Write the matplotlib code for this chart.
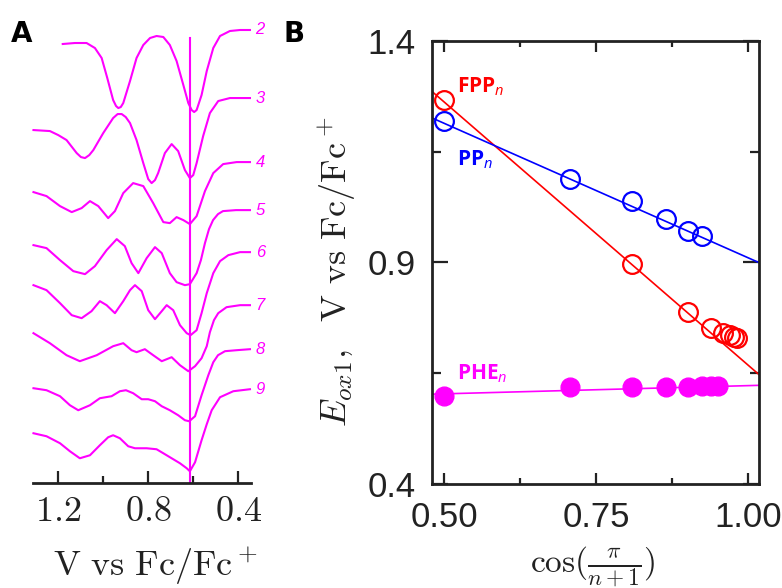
import matplotlib
matplotlib.use('Agg')
import matplotlib.pyplot as plt
import numpy as np

# custom math font for the series labels (bold sans + italic subscript)
plt.rcParams['mathtext.fontset'] = 'custom'
plt.rcParams['mathtext.rm'] = 'Open Sans:bold'
plt.rcParams['mathtext.it'] = 'Open Sans:italic'
plt.rcParams['mathtext.bf'] = 'Open Sans:bold'

MAG = '#ff00ff'
RED = '#ff0000'
BLUE = '#0000ff'
INK = '#222222'

# ---- panel A: voltammograms, V vs Fc/Fc+ and stacked current (arb. units)
orders = [2, 3, 4, 5, 6, 7, 8, 9]
volt2 = [1.180, 1.126, 1.074, 1.037, 1.007, 0.982, 0.956, 0.943, 0.933, 0.922, 0.911, 0.881, 0.852, 0.822, 0.792, 0.763,
         0.733, 0.704, 0.674, 0.644, 0.622, 0.607, 0.596, 0.585, 0.563, 0.540, 0.511, 0.481, 0.437, 0.392, 0.348]
cur2 = [43.9, 44.0, 44.0, 43.5, 42.5, 40.5, 38.3, 37.7, 37.5, 37.6, 38.0, 40.2, 42.5, 43.8, 44.5, 44.7,
        44.6, 43.8, 42.2, 39.8, 38.0, 37.3, 37.1, 37.3, 38.8, 41.2, 43.5, 44.7, 45.2, 45.3, 45.3]
volt3 = [1.310, 1.237, 1.200, 1.163, 1.118, 1.099, 1.081, 1.062, 1.044, 1.000, 0.956, 0.936, 0.918, 0.900, 0.881, 0.852,
         0.822, 0.800, 0.785, 0.770, 0.756, 0.726, 0.696, 0.667, 0.637, 0.615, 0.600, 0.585, 0.556, 0.526, 0.489, 0.437, 0.348]
cur3 = [35.3, 35.2, 34.8, 34.3, 33.0, 32.6, 32.5, 32.8, 33.3, 35.0, 36.5, 36.9, 36.9, 36.6, 36.0, 34.3,
        32.0, 30.4, 30.0, 30.3, 31.0, 33.0, 33.9, 33.2, 31.3, 30.5, 30.8, 32.0, 34.7, 37.0, 38.2, 38.5, 38.5]
volt4 = [1.310, 1.252, 1.192, 1.140, 1.096, 1.059, 1.022, 0.978, 0.948, 0.911, 0.867, 0.822, 0.778, 0.733,
         0.704, 0.674, 0.644, 0.615, 0.585, 0.548, 0.511, 0.467, 0.407, 0.348]
cur4 = [29.1, 28.7, 27.7, 27.1, 27.5, 28.2, 27.7, 26.5, 27.2, 29.0, 30.0, 29.7, 28.0, 26.1,
        26.0, 26.6, 26.3, 25.9, 26.7, 29.2, 31.0, 31.9, 32.1, 32.1]
volt5 = [1.310, 1.252, 1.192, 1.133, 1.081, 1.037, 0.985, 0.940, 0.904, 0.874, 0.844, 0.807, 0.770, 0.740,
         0.704, 0.674, 0.637, 0.615, 0.585, 0.566, 0.548, 0.530, 0.512, 0.490, 0.468, 0.410, 0.348]
cur5 = [23.8, 23.5, 22.3, 21.2, 20.9, 21.7, 23.3, 24.4, 23.7, 22.0, 21.0, 22.5, 23.6, 23.0,
        21.0, 20.1, 19.8, 19.9, 21.0, 22.3, 24.0, 25.4, 26.3, 26.9, 27.2, 27.3, 27.3]
volt6 = [1.310, 1.252, 1.192, 1.140, 1.096, 1.052, 1.015, 0.985, 0.948, 0.911, 0.881, 0.859, 0.829, 0.800,
         0.770, 0.740, 0.718, 0.689, 0.659, 0.629, 0.612, 0.585, 0.563, 0.540, 0.511, 0.481, 0.444, 0.392, 0.348]
cur6 = [19.8, 19.3, 18.0, 16.8, 16.5, 17.2, 18.2, 17.8, 17.0, 18.2, 19.3, 19.8, 19.2, 17.3,
        16.4, 17.2, 17.8, 17.3, 15.8, 15.0, 14.8, 15.3, 17.0, 19.0, 21.0, 22.2, 22.8, 23.1, 23.1]
volt7 = [1.310, 1.237, 1.163, 1.104, 1.029, 0.956, 0.911, 0.874, 0.852, 0.815, 0.778, 0.740, 0.696, 0.659,
         0.622, 0.592, 0.563, 0.540, 0.526, 0.508, 0.489, 0.452, 0.392, 0.348]
cur7 = [15.0, 14.0, 12.8, 12.2, 12.8, 13.7, 14.0, 13.3, 13.1, 13.4, 12.8, 12.2, 12.6, 11.8,
        11.2, 11.7, 12.5, 13.7, 15.1, 16.3, 17.0, 17.6, 17.8, 17.8]
volt8 = [1.310, 1.252, 1.192, 1.148, 1.111, 1.059, 1.015, 0.963, 0.926, 0.899, 0.867, 0.829, 0.800, 0.770,
         0.740, 0.704, 0.667, 0.637, 0.618, 0.592, 0.563, 0.533, 0.511, 0.490, 0.459, 0.407, 0.348]
cur8 = [9.5, 9.3, 8.7, 7.8, 7.3, 7.8, 8.5, 8.7, 9.2, 9.3, 9.0, 8.4, 8.4, 8.2,
        7.7, 7.3, 6.8, 6.3, 6.2, 6.7, 8.8, 10.8, 12.1, 12.8, 13.2, 13.3, 13.4]
volt9 = [1.310, 1.252, 1.192, 1.148, 1.104, 1.059, 1.015, 0.978, 0.956, 0.926, 0.889, 0.859, 0.807, 0.763,
         0.733, 0.696, 0.659, 0.629, 0.615, 0.592, 0.563, 0.540, 0.518, 0.481, 0.422, 0.348]
cur9 = [5.0, 4.7, 4.0, 3.2, 2.5, 2.8, 3.8, 4.6, 4.8, 4.5, 3.7, 3.5, 3.5, 3.4,
        3.0, 2.5, 2.0, 1.5, 1.2, 2.1, 4.3, 5.9, 7.3, 8.6, 9.2, 9.4]
ref_potential = 0.615
ref_top = 44.5

# ---- panel B: first oxidation potential vs cos(pi/(n+1))
fpp_n = [2, 4, 6, 8, 10, 12, 14, 16]
fpp_e = [1.267, 0.897, 0.789, 0.752, 0.741, 0.736, 0.732, 0.730]
pp_n = [2, 3, 4, 5, 6, 7]
pp_e = [1.219, 1.088, 1.039, 0.998, 0.970, 0.959]
phe_n = [2, 3, 4, 5, 6, 7, 8, 9]
phe_e = [0.599, 0.619, 0.620, 0.620, 0.620, 0.621, 0.621, 0.621]
fpp_fit = (-1.186, 1.855)   # slope, intercept
pp_fit = (-0.606, 1.517)
phe_fit = (0.037, 0.585)

fig = plt.figure(figsize=(7.82, 5.88), dpi=100)

# ================= A
axA = fig.add_axes([0.0428, 0.1781, 0.2777, 0.7879])
traces = [(volt2, cur2), (volt3, cur3), (volt4, cur4), (volt5, cur5),
          (volt6, cur6), (volt7, cur7), (volt8, cur8), (volt9, cur9)]
for n, (v, c) in zip(orders, traces):
    axA.plot(v, c, color=MAG, lw=1.5, solid_joinstyle='round', clip_on=False)
    axA.text(v[-1] - 0.025, c[-1], str(n), color=MAG, fontsize=12, style='italic',
             family='Liberation Sans', ha='left', va='center', clip_on=False)
axA.plot([ref_potential, ref_potential], [0, ref_top], color=MAG, lw=1.5)
axA.set_xlim(1.31, 0.345)
axA.set_ylim(0, 46.3)
for s in ['left', 'top', 'right']:
    axA.spines[s].set_visible(False)
axA.spines['bottom'].set_linewidth(2)
axA.spines['bottom'].set_color(INK)
axA.set_yticks([])
axA.set_xticks([1.2, 0.8, 0.4])
axA.set_xticklabels(['$1.2$', '$0.8$', '$0.4$'])
axA.set_xticks([1.0, 0.6], minor=True)
axA.tick_params(axis='x', which='major', direction='in', length=8.5, width=1.6, color=INK,
                pad=8, labelsize=26, labelcolor=INK)
axA.tick_params(axis='x', which='minor', direction='in', length=5, width=1.6, color=INK)
for lab in axA.get_xticklabels():
    lab.set_math_fontfamily('cm')
axA.patch.set_alpha(0)
fig.text(155 / 782, 1 - 566 / 588, r'$\mathrm{V\ vs\ Fc/Fc}^+$', math_fontfamily='cm',
         fontsize=26, ha='center', va='center', color=INK)

# ================= B
axB = fig.add_axes([0.5528, 0.1769, 0.4178, 0.7534])
x_lo, x_hi = 0.4802, 1.0186
axB.set_xlim(x_lo, x_hi)
axB.set_ylim(0.4, 1.4)
xx = np.array([x_lo, x_hi])

fpp_x = np.cos(np.pi / (np.array(fpp_n) + 1))
pp_x = np.cos(np.pi / (np.array(pp_n) + 1))
phe_x = np.cos(np.pi / (np.array(phe_n) + 1))

axB.plot(xx, fpp_fit[0] * xx + fpp_fit[1], color=RED, lw=1.2)
axB.plot(xx, pp_fit[0] * xx + pp_fit[1], color=BLUE, lw=1.2)
axB.plot(xx, phe_fit[0] * xx + phe_fit[1], color=MAG, lw=1.2)
axB.plot(fpp_x, fpp_e, 'o', mfc='none', mec=RED, ms=13.5, mew=1.6, clip_on=False)
axB.plot(pp_x, pp_e, 'o', mfc='none', mec=BLUE, ms=13.5, mew=1.6, clip_on=False)
axB.plot(phe_x, phe_e, 'o', color=MAG, ms=13.5, clip_on=False)

axB.text(0.521, 1.283, r'FPP$_n$', color=RED, fontsize=15, fontweight='bold',
         family='Open Sans', math_fontfamily='custom')
axB.text(0.521, 1.120, r'PP$_n$', color=BLUE, fontsize=15, fontweight='bold',
         family='Open Sans', math_fontfamily='custom')
axB.text(0.521, 0.637, r'PHE$_n$', color=MAG, fontsize=15, fontweight='bold',
         family='Open Sans', math_fontfamily='custom')

axB.set_xticks([0.5, 0.75, 1.0])
axB.set_xticklabels(['0.50', '0.75', '1.00'])
axB.set_xticks([0.625, 0.875], minor=True)
axB.set_yticks([0.4, 0.9, 1.4])
axB.set_yticklabels(['0.4', '0.9', '1.4'])
axB.set_yticks([0.65, 1.15], minor=True)
for s in axB.spines.values():
    s.set_linewidth(2)
    s.set_color(INK)
axB.tick_params(axis='x', which='major', direction='in', length=7.7, width=1.6, color=INK,
                top=True, pad=12, labelsize=25, labelcolor=INK)
axB.tick_params(axis='x', which='minor', direction='in', length=4, width=1.6, color=INK, top=True)
axB.tick_params(axis='y', which='major', direction='in', length=11.5, width=1.6, color=INK,
                right=True, pad=12, labelsize=25, labelcolor=INK)
axB.tick_params(axis='y', which='minor', direction='in', length=6.5, width=1.6, color=INK, right=True)
for lab in axB.get_xticklabels() + axB.get_yticklabels():
    lab.set_family('Liberation Sans')

fig.text(337 / 782, 1 - 272 / 588, r'$E_{ox1},\ \ \mathrm{V\ vs\ Fc/Fc}^+$', rotation=90,
         math_fontfamily='cm', fontsize=26, ha='center', va='center', color=INK)
fig.text(593 / 782, 1 - 566 / 588, r'$\cos(\frac{\pi}{n+1})$', math_fontfamily='cm',
         fontsize=24, ha='center', va='center', color=INK)

fig.text(11 / 782, 1 - 41.7 / 588, 'A', fontsize=20, fontweight='bold', family='DejaVu Sans',
         ha='left', va='baseline')
fig.text(284 / 782, 1 - 41.7 / 588, 'B', fontsize=20, fontweight='bold', family='DejaVu Sans',
         ha='left', va='baseline')

fig.savefig('out.png', dpi=100)
